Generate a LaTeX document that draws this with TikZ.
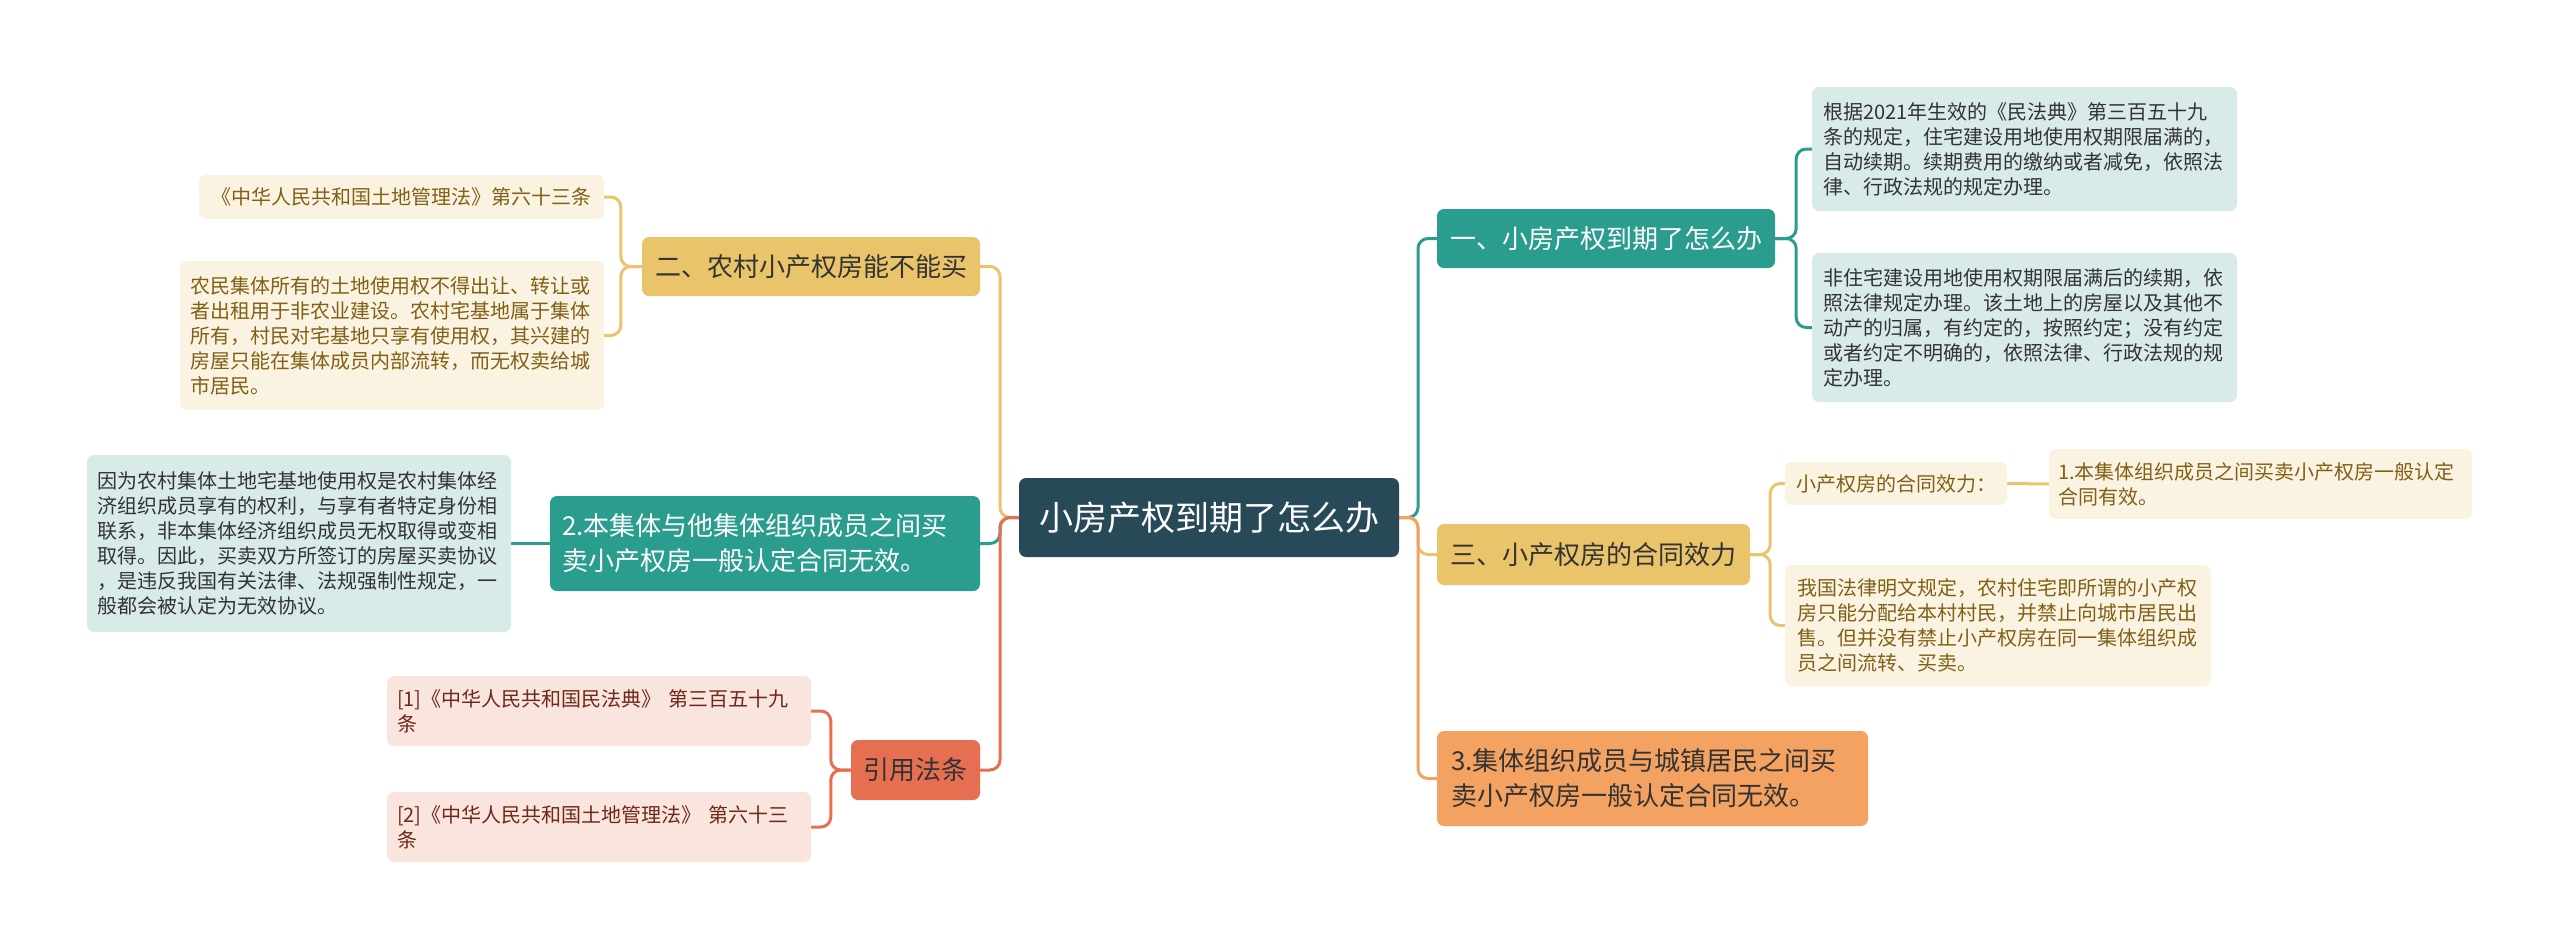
\documentclass[tikz,border=0pt]{standalone}
\usepackage{fontspec}
\setmainfont{Noto Sans CJK SC}
\usetikzlibrary{backgrounds}
\definecolor{rootc}{RGB}{40,73,88}
\definecolor{tealc}{RGB}{42,157,143}
\definecolor{yellowc}{RGB}{233,196,106}
\definecolor{orangec}{RGB}{244,162,97}
\definecolor{redc}{RGB}{231,111,81}
\definecolor{tealleaf}{RGB}{216,235,233}
\definecolor{cream}{RGB}{251,243,226}
\definecolor{pinkc}{RGB}{250,228,222}
\definecolor{yellowtext}{RGB}{128,96,22}
\definecolor{redtext}{RGB}{110,40,25}
\definecolor{darktext}{RGB}{51,51,51}
\begin{document}
\begin{tikzpicture}[x=1pt,y=-1pt,
  base/.style={rounded corners=7pt, inner ysep=0pt, anchor=center},
  leaf/.style={base, align=left, font=\fontsize{20}{25}\selectfont},
  single/.style={base, align=center},
  branch/.style={base, font=\fontsize{26}{35}\selectfont},
  conn/.style={line width=3pt, rounded corners=10pt},
]
\useasboundingbox (0,0) rectangle (2560,951);

% root
\node[single, fill=rootc, text=white, font=\fontsize{34}{40}\selectfont, minimum width=380pt, minimum height=79pt] (root) at (1209,517.5) {小房产权到期了怎么办};

% right side
\node[branch, single, fill=tealc, text=white, minimum width=338pt, minimum height=59pt] (n1) at (1606,238.5) {一、小房产权到期了怎么办};
\node[leaf, fill=tealleaf, text=darktext, inner xsep=11pt, text width=403pt, minimum height=124pt] (l1a) at (2024.5,149) {根据2021年生效的《民法典》第三百五十九\\条的规定，住宅建设用地使用权期限届满的，\\自动续期。续期费用的缴纳或者减免，依照法\\律、行政法规的规定办理。};
\node[leaf, fill=tealleaf, text=darktext, inner xsep=11pt, text width=403pt, minimum height=149pt] (l1b) at (2024.5,327.5) {非住宅建设用地使用权期限届满后的续期，依\\照法律规定办理。该土地上的房屋以及其他不\\动产的归属，有约定的，按照约定；没有约定\\或者约定不明确的，依照法律、行政法规的规\\定办理。};

\node[branch, single, fill=yellowc, text=darktext, minimum width=313pt, minimum height=61pt] (n3) at (1593.5,554.5) {三、小产权房的合同效力};
\node[leaf, single, fill=cream, text=yellowtext, minimum width=222pt, minimum height=43pt] (s1) at (1896,483.5) {小产权房的合同效力：};
\node[leaf, fill=cream, text=yellowtext, inner xsep=9pt, text width=405pt, minimum height=70pt] (s1a) at (2260.5,484) {1.本集体组织成员之间买卖小产权房一般认定\\合同有效。};
\node[leaf, fill=cream, text=yellowtext, inner xsep=12pt, text width=402pt, minimum height=121pt] (s2) at (1998,625.5) {我国法律明文规定，农村住宅即所谓的小产权\\房只能分配给本村村民，并禁止向城市居民出\\售。但并没有禁止小产权房在同一集体组织成\\员之间流转、买卖。};

\node[branch, align=left, fill=orangec, text=darktext, inner xsep=14pt, text width=403pt, minimum height=95pt] (n4) at (1652.5,778.5) {3.集体组织成员与城镇居民之间买\\卖小产权房一般认定合同无效。};

% left side
\node[branch, single, fill=yellowc, text=darktext, minimum width=338pt, minimum height=59pt] (n2) at (811,266.5) {二、农村小产权房能不能买};
\node[leaf, single, fill=cream, text=yellowtext, minimum width=405pt, minimum height=44pt] (e1) at (401.5,197) {《中华人民共和国土地管理法》第六十三条};
\node[leaf, fill=cream, text=yellowtext, inner xsep=10pt, text width=404pt, minimum height=149pt] (e2) at (392,335.5) {农民集体所有的土地使用权不得出让、转让或\\者出租用于非农业建设。农村宅基地属于集体\\所有，村民对宅基地只享有使用权，其兴建的\\房屋只能在集体成员内部流转，而无权卖给城\\市居民。};

\node[branch, align=left, fill=tealc, text=white, inner xsep=12pt, text width=406pt, minimum height=95pt] (n5) at (765,543.5) {2.本集体与他集体组织成员之间买\\卖小产权房一般认定合同无效。};
\node[leaf, fill=tealleaf, text=darktext, inner xsep=10pt, text width=404pt, minimum height=177pt] (t1) at (299,543.5) {因为农村集体土地宅基地使用权是农村集体经\\济组织成员享有的权利，与享有者特定身份相\\联系，非本集体经济组织成员无权取得或变相\\取得。因此，买卖双方所签订的房屋买卖协议\\，是违反我国有关法律、法规强制性规定，一\\般都会被认定为无效协议。};

\node[branch, single, fill=redc, text=darktext, minimum width=129pt, minimum height=60pt] (n6) at (915.5,770) {引用法条};
\node[leaf, fill=pinkc, text=redtext, inner xsep=10pt, text width=404pt, minimum height=70pt] (r1) at (599,711) {[1]《中华人民共和国民法典》~第三百五十九\\条};
\node[leaf, fill=pinkc, text=redtext, inner xsep=10pt, text width=404pt, minimum height=70pt] (r2) at (599,827) {[2]《中华人民共和国土地管理法》~第六十三\\条};

\coordinate (rt) at (1418,517.5);
\coordinate (lt) at (1000,517.5);

\begin{pgfonlayer}{background}
\fill[white] (0,0) rectangle (2560,951);
\draw[conn, tealc] (root.east) -- (rt) |- (n1.west);
\draw[conn, yellowc] (root.east) -- (rt) |- (n3.west);
\draw[conn, orangec] (root.east) -- (rt) |- (n4.west);
\draw[conn, yellowc] (root.west) -- (lt) |- (n2.east);
\draw[conn, tealc] (root.west) -- (lt) |- (n5.east);
\draw[conn, redc] (root.west) -- (lt) |- (n6.east);
\draw[conn, tealc] (n1.east) -- ++(21,0) |- (l1a.west);
\draw[conn, tealc] (n1.east) -- ++(21,0) |- (l1b.west);
\draw[conn, yellowc] (n3.east) -- ++(20,0) |- (s1.west);
\draw[conn, yellowc] (n3.east) -- ++(20,0) |- (s2.west);
\draw[conn, yellowc] (s1.east) -- (s1a.west);
\draw[conn, yellowc] (n2.west) -- ++(-21,0) |- (e1.east);
\draw[conn, yellowc] (n2.west) -- ++(-21,0) |- (e2.east);
\draw[conn, tealc] (n5.west) -- (t1.east);
\draw[conn, redc] (n6.west) -- ++(-20,0) |- (r1.east);
\draw[conn, redc] (n6.west) -- ++(-20,0) |- (r2.east);
\end{pgfonlayer}
\end{tikzpicture}
\end{document}
